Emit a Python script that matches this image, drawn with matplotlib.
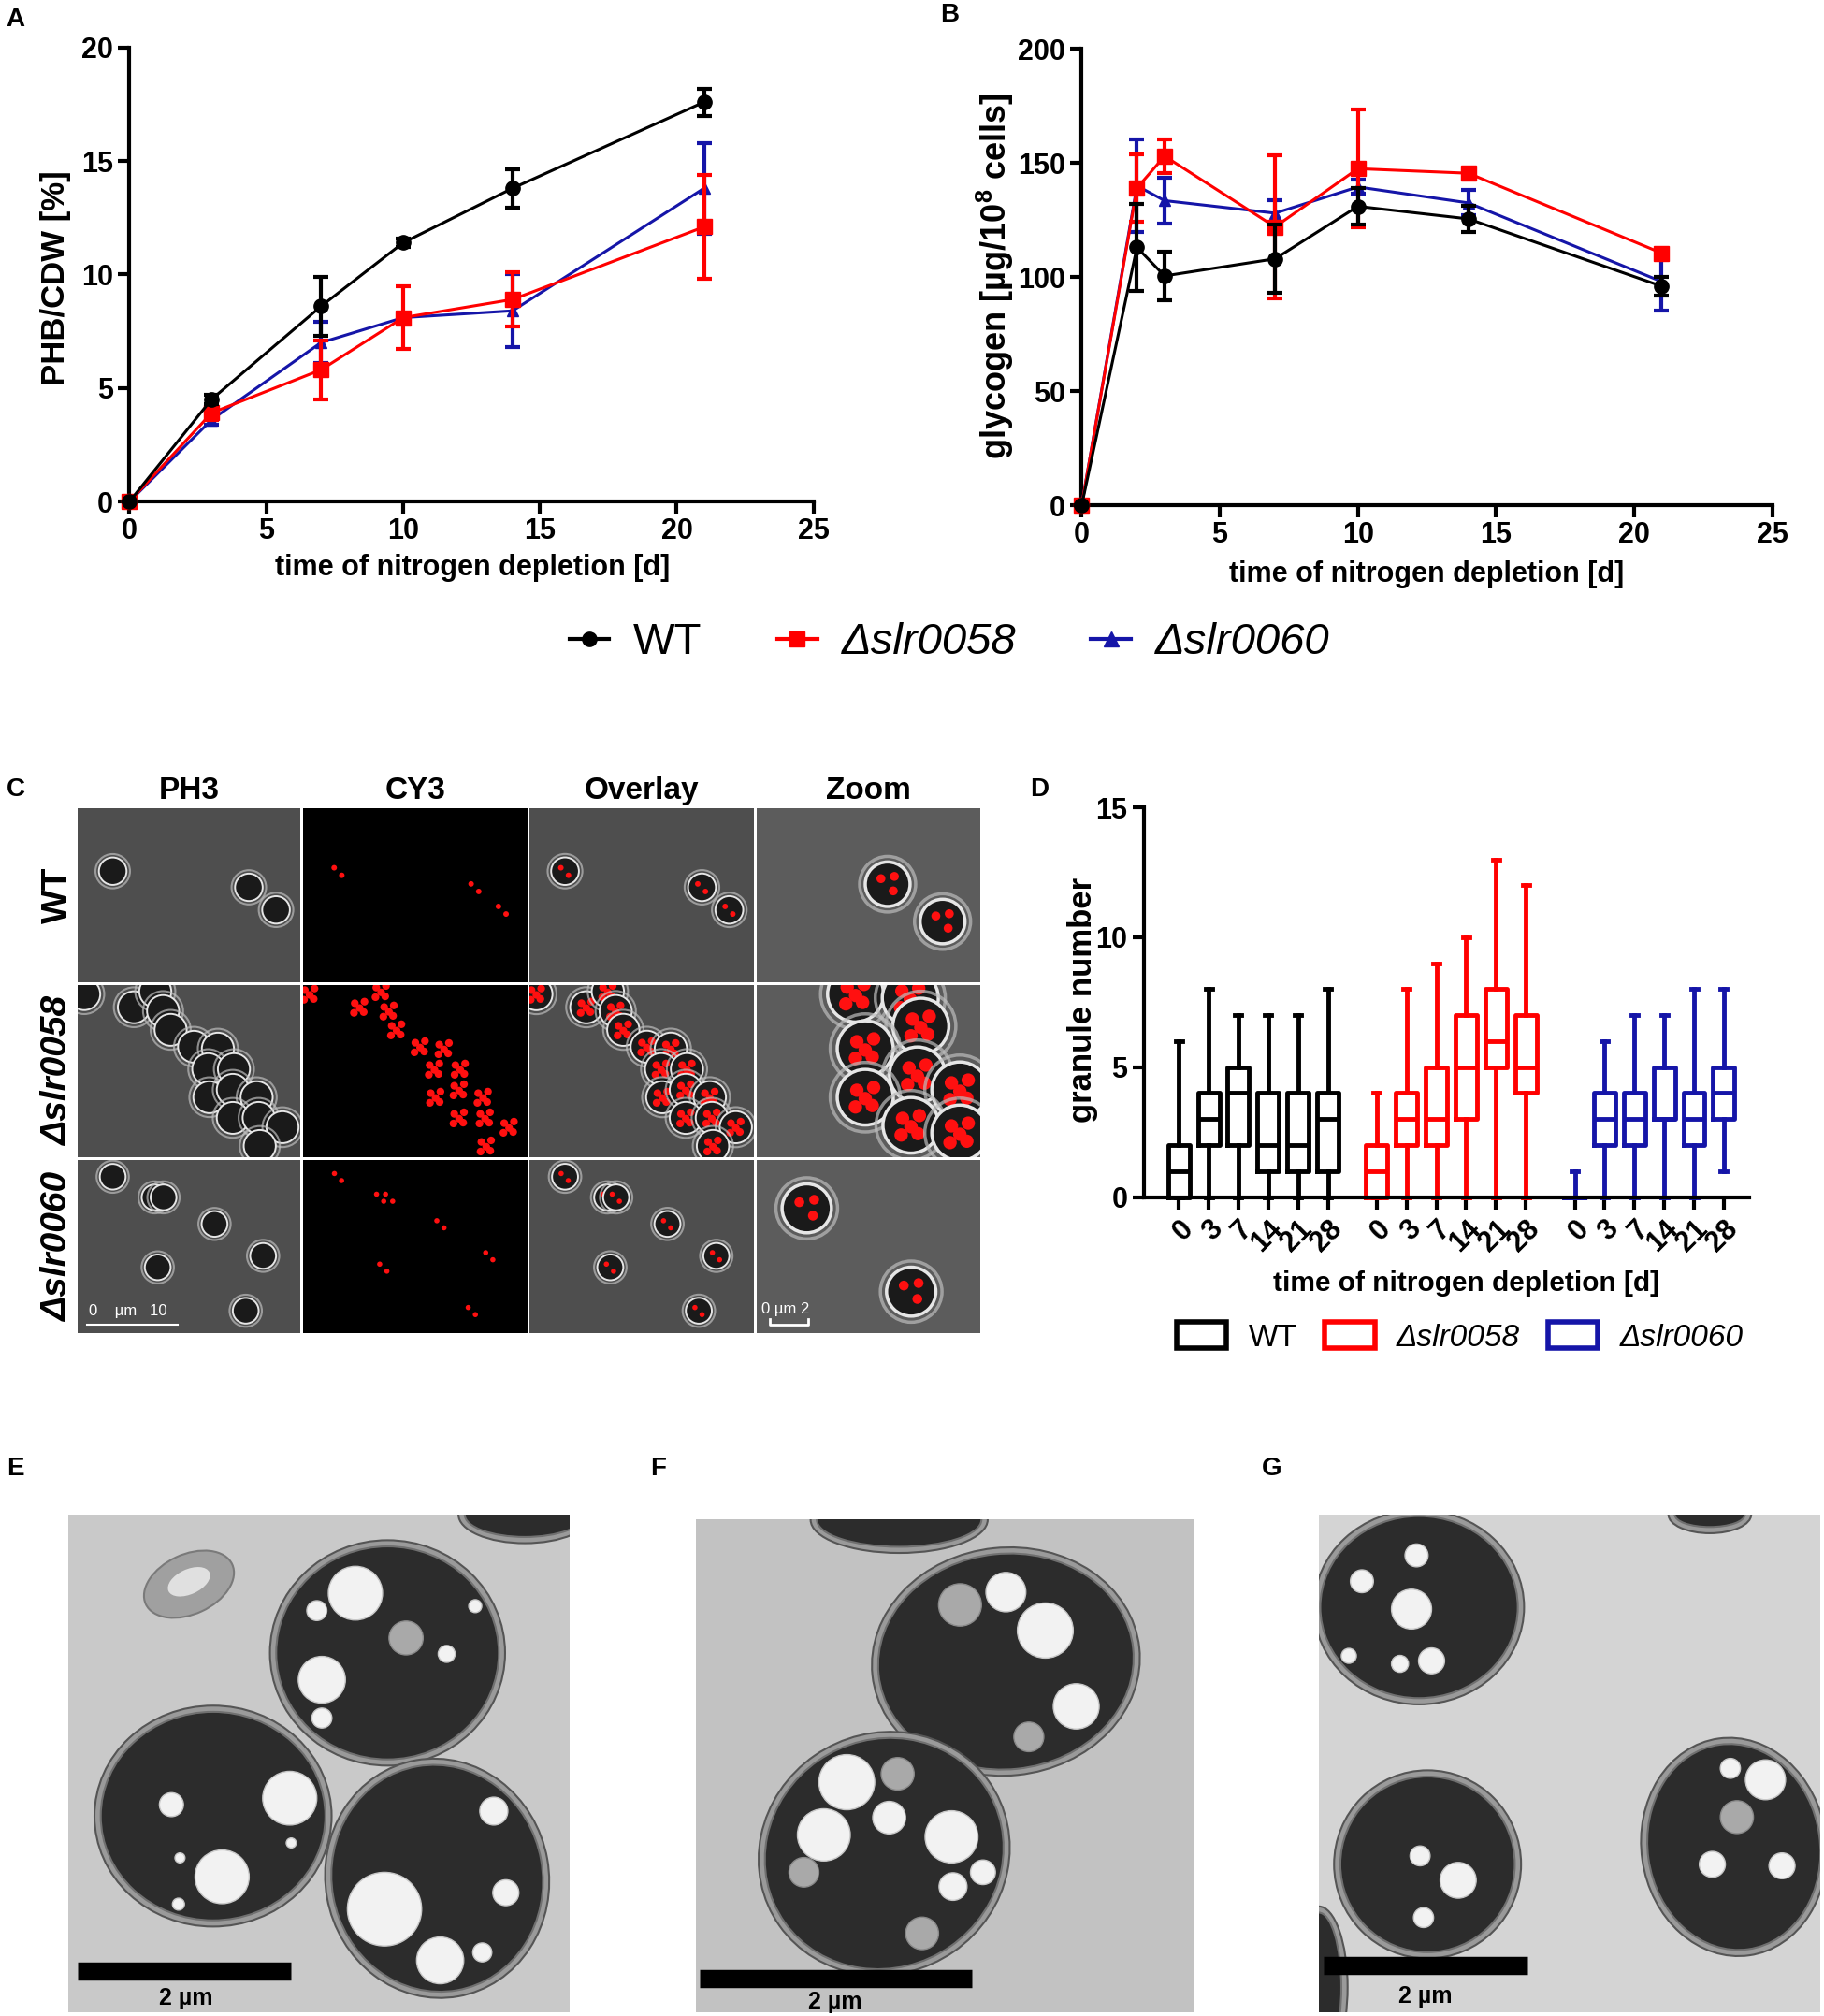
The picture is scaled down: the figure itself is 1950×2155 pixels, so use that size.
import matplotlib
matplotlib.use('Agg')
import matplotlib.pyplot as plt
from matplotlib.patches import Ellipse, Patch
from matplotlib.lines import Line2D

plt.rcParams['font.family'] = ['Liberation Sans', 'DejaVu Sans']
plt.rcParams['mathtext.fontset'] = 'custom'
plt.rcParams['mathtext.rm'] = 'Liberation Sans'
plt.rcParams['mathtext.it'] = 'Liberation Sans:italic'
plt.rcParams['mathtext.bf'] = 'Liberation Sans:bold'

# ---------------- data ----------------
series_names = ['WT', 'Δslr0058', 'Δslr0060']
colors = ['#000000', '#ff0000', '#1515a8']
markers = ['o', 's', '^']

# Panel A: PHB/CDW [%]
time_A = [0, 3, 7, 10, 14, 21]
phb_wt = [0, 4.5, 8.6, 11.4, 13.8, 17.6]
phb_wt_err = [0, 0.2, 1.3, 0.2, 0.85, 0.6]
phb_58 = [0, 3.9, 5.8, 8.1, 8.9, 12.1]
phb_58_err = [0, 0.3, 1.3, 1.4, 1.2, 2.3]
phb_60 = [0, 3.6, 7.0, 8.1, 8.4, 13.8]
phb_60_err = [0, 0.2, 0.9, 0.2, 1.6, 2.0]

# Panel B: glycogen [ug/10^8 cells]
time_B = [0, 2, 3, 7, 10, 14, 21]
gly_wt = [0, 113, 100.5, 108, 131, 125.5, 96]
gly_wt_err = [0, 19, 10.7, 15, 8, 5.7, 4]
gly_58 = [0, 139, 153, 122, 147.5, 145.5, 110.5]
gly_58_err = [0, 14.6, 7.3, 31.5, 25.8, 1.5, 2]
gly_60 = [0, 140, 133.5, 128, 139.5, 132.5, 98]
gly_60_err = [0, 20.4, 10, 5.7, 3, 5.5, 12.5]

# Panel D: granule number box plots (min, q1, median, q3, max)
days_D = ['0', '3', '7', '14', '21', '28']
wt_min = [0, 0, 0, 0, 0, 0]
wt_q1 = [0, 2, 2, 1, 1, 1]
wt_med = [1, 3, 4, 2, 2, 3]
wt_q3 = [2, 4, 5, 4, 4, 4]
wt_max = [6, 8, 7, 7, 7, 8]
s58_min = [0, 0, 0, 0, 0, 0]
s58_q1 = [0, 2, 2, 3, 5, 4]
s58_med = [1, 3, 3, 5, 6, 5]
s58_q3 = [2, 4, 5, 7, 8, 7]
s58_max = [4, 8, 9, 10, 13, 12]
s60_min = [0, 0, 0, 0, 0, 1]
s60_q1 = [0, 2, 2, 3, 2, 3]
s60_med = [0, 3, 3, 3, 3, 4]
s60_q3 = [0, 4, 4, 5, 4, 5]
s60_max = [1, 6, 7, 7, 8, 8]

# Panel C: schematic cell positions (relative panel coordinates)
cells_wt = [(0.157, 0.36), (0.768, 0.453), (0.89, 0.583)]
cells_wt_zoom = [(0.585, 0.435), (0.83, 0.65)]
cells_58 = [(0.029, 0.054), (0.252, 0.130), (0.348, 0.039), (0.383, 0.152),
            (0.417, 0.261), (0.522, 0.359), (0.629, 0.370), (0.586, 0.489),
            (0.701, 0.489), (0.591, 0.652), (0.696, 0.609), (0.803, 0.652),
            (0.696, 0.772), (0.812, 0.772), (0.919, 0.826), (0.817, 0.935)]
cells_58_zoom = [(0.442, 0.054), (0.686, 0.076), (0.733, 0.239), (0.485, 0.37),
                 (0.718, 0.522), (0.907, 0.609), (0.485, 0.652), (0.689, 0.815),
                 (0.907, 0.859)]
cells_60 = [(0.157, 0.098), (0.345, 0.217), (0.385, 0.217), (0.614, 0.370),
            (0.359, 0.620), (0.832, 0.554), (0.754, 0.870)]
cells_60_zoom = [(0.224, 0.28), (0.69, 0.76)]

# Panels E-G: schematic TEM cells (cx, cy, w, h, angle), granules / vacuoles (x, y, r)
em_cells = {
    'E': [(0.636, 0.278, 0.444, 0.428, 0), (0.288, 0.606, 0.448, 0.419, 0),
          (0.735, 0.731, 0.421, 0.457, -10), (0.91, 0.0, 0.24, 0.09, 0)],
    'F': [(0.622, 0.288, 0.513, 0.438, -6), (0.378, 0.678, 0.487, 0.461, -35),
          (0.408, 0.0, 0.33, 0.11, 0)],
    'G': [(0.20, 0.186, 0.394, 0.366, 0), (0.217, 0.703, 0.348, 0.353, 0),
          (0.828, 0.668, 0.344, 0.415, -8), (0.0, 0.95, 0.09, 0.3, 0), (0.78, 0.0, 0.14, 0.05, 0)],
}
em_granules = {
    'E': [(0.572, 0.158, 0.054), (0.505, 0.332, 0.047), (0.495, 0.193, 0.02), (0.754, 0.28, 0.017),
          (0.505, 0.409, 0.02), (0.811, 0.184, 0.013),
          (0.441, 0.57, 0.054), (0.306, 0.728, 0.054), (0.205, 0.583, 0.024), (0.219, 0.783, 0.012),
          (0.444, 0.66, 0.01), (0.222, 0.69, 0.01),
          (0.63, 0.793, 0.074), (0.741, 0.896, 0.047), (0.848, 0.596, 0.028), (0.872, 0.76, 0.026),
          (0.825, 0.88, 0.019)],
    'F': [(0.622, 0.147, 0.04), (0.701, 0.225, 0.056), (0.763, 0.379, 0.046),
          (0.303, 0.533, 0.056), (0.257, 0.64, 0.053), (0.513, 0.644, 0.053), (0.388, 0.605, 0.033),
          (0.576, 0.716, 0.025), (0.516, 0.745, 0.028)],
    'G': [(0.185, 0.19, 0.04), (0.195, 0.082, 0.023), (0.086, 0.134, 0.023), (0.225, 0.294, 0.026),
          (0.162, 0.30, 0.017), (0.06, 0.284, 0.015),
          (0.278, 0.735, 0.036), (0.202, 0.686, 0.02), (0.209, 0.81, 0.02),
          (0.891, 0.533, 0.04), (0.821, 0.51, 0.02), (0.785, 0.703, 0.026), (0.924, 0.706, 0.026)],
}
em_vacuoles = {
    'E': [(0.673, 0.248, 0.034)],
    'F': [(0.53, 0.173, 0.043), (0.668, 0.441, 0.03), (0.405, 0.516, 0.033), (0.217, 0.716, 0.03),
          (0.454, 0.84, 0.033)],
    'G': [(0.834, 0.608, 0.033)],
}
em_bg = {'E': '#c9c9c9', 'F': '#c2c2c2', 'G': '#d4d4d4'}

# ---------------- figure ----------------
W, H = 1408.0, 1568.0
fig = plt.figure(figsize=(19.5, 21.55), dpi=100)


def box(x0, y0, x1, y1):
    return [x0 / W, 1 - y1 / H, (x1 - x0) / W, (y1 - y0) / H]


def fx(x):
    return x / W


def fy(y):
    return 1 - y / H


def style(ax, lab=21):
    for s in ['top', 'right']:
        ax.spines[s].set_visible(False)
    for s in ['left', 'bottom']:
        ax.spines[s].set_linewidth(3)
    ax.tick_params(width=3, length=9, labelsize=lab, direction='out')
    for t in ax.get_xticklabels() + ax.get_yticklabels():
        t.set_fontweight('bold')


# Panel A
axA = fig.add_axes(box(100, 37, 628, 390))
dataA = [(phb_60, phb_60_err), (phb_58, phb_58_err), (phb_wt, phb_wt_err)]
for k, (v, e) in zip([2, 1, 0], dataA):
    axA.errorbar(time_A, v, yerr=e, color=colors[k], marker=markers[k],
                 ms=11 if k < 2 else 9, lw=2.2, elinewidth=3, capsize=6, capthick=3,
                 clip_on=False, zorder=3 + (2 - k))
axA.set_xlim(0, 25)
axA.set_ylim(0, 20)
axA.set_xticks([0, 5, 10, 15, 20, 25])
axA.set_yticks([0, 5, 10, 15, 20])
style(axA, lab=22)
fig.text(fx(365), fy(442), 'time of nitrogen depletion [d]', ha='center', va='center',
         fontsize=22, fontweight='bold')
fig.text(fx(43), fy(216), 'PHB/CDW [%]', ha='center', va='center', rotation=90,
         fontsize=25, fontweight='bold')

# Panel B
axB = fig.add_axes(box(835, 38, 1368, 393))
dataB = [(gly_60, gly_60_err), (gly_58, gly_58_err), (gly_wt, gly_wt_err)]
for k, (v, e) in zip([2, 1, 0], dataB):
    axB.errorbar(time_B, v, yerr=e, color=colors[k], marker=markers[k],
                 ms=11 if k < 2 else 9, lw=2.2, elinewidth=3, capsize=6, capthick=3,
                 clip_on=False, zorder=3 + (2 - k))
axB.set_xlim(0, 25)
axB.set_ylim(0, 200)
axB.set_xticks([0, 5, 10, 15, 20, 25])
axB.set_yticks([0, 50, 100, 150, 200])
style(axB, lab=22)
fig.text(fx(1101), fy(447), 'time of nitrogen depletion [d]', ha='center', va='center',
         fontsize=22, fontweight='bold')
fig.text(fx(768), fy(215), r'glycogen [µg/10$^{\mathbf{8}}$ cells]', ha='center', va='center',
         rotation=90, fontsize=26, fontweight='bold')

# Legend A/B
handles = [Line2D([], [], color=colors[k], marker=markers[k], ms=11, lw=3) for k in range(3)]
legAB = fig.legend(handles, series_names, loc='center', bbox_to_anchor=(fx(733), fy(500)), ncol=3,
                   frameon=False, fontsize=34, handlelength=0.9, columnspacing=1.7,
                   handletextpad=0.55)
for t in legAB.get_texts()[1:]:
    t.set_fontstyle('italic')

# Panel D
axD = fig.add_axes(box(883, 628, 1350, 931))
groups = [(wt_min, wt_q1, wt_med, wt_q3, wt_max),
          (s58_min, s58_q1, s58_med, s58_q3, s58_max),
          (s60_min, s60_q1, s60_med, s60_q3, s60_max)]
group_step = 6.64
pos_all, lab_all = [], []
for gi, (mn, q1, md, q3, mx) in enumerate(groups):
    stats = [dict(whislo=mn[i], q1=q1[i], med=md[i], q3=q3[i], whishi=mx[i], fliers=[])
             for i in range(len(days_D))]
    pos = [i + gi * group_step for i in range(len(days_D))]
    c = colors[gi]
    axD.bxp(stats, positions=pos, widths=0.72, showfliers=False,
            boxprops=dict(color=c, lw=3.5), medianprops=dict(color=c, lw=3.5),
            whiskerprops=dict(color=c, lw=3.5), capprops=dict(color=c, lw=3.5),
            capwidths=0.22, manage_ticks=False)
    pos_all += pos
    lab_all += days_D
for ln in axD.lines:
    ln.set_clip_on(False)
axD.set_xlim(-1.17, 19.12)
axD.set_ylim(0, 15)
axD.set_yticks([0, 5, 10, 15])
axD.set_xticks(pos_all)
axD.set_xticklabels(lab_all, rotation=45, ha='right', rotation_mode='anchor')
style(axD, lab=22)
axD.tick_params(axis='x', pad=5)
fig.text(fx(836), fy(778), 'granule number', ha='center', va='center', rotation=90,
         fontsize=25, fontweight='bold')
fig.text(fx(1132), fy(998), 'time of nitrogen depletion [d]', ha='center', va='center',
         fontsize=21.5, fontweight='bold')
hD = [Patch(facecolor='white', edgecolor=colors[k], lw=4) for k in range(3)]
legD = fig.legend(hD, series_names, loc='center', bbox_to_anchor=(fx(1127), fy(1040)), ncol=3,
                  frameon=False, fontsize=24, handlelength=1.6, handleheight=0.9,
                  columnspacing=0.9, handletextpad=0.7)
for t in legD.get_texts()[1:]:
    t.set_fontstyle('italic')

# Panel C: microscopy schematic
col_x = [(60, 232), (234, 407), (409, 582), (584, 757)]
row_y = [(629, 764), (766, 900), (902, 1037)]
rows = [(cells_wt, cells_wt_zoom, 2, 0.062, 0.10),
        (cells_58, cells_58_zoom, 5, 0.072, 0.125),
        (cells_60, cells_60_zoom, 2, 0.058, 0.11)]
dot_pattern = [(-0.3, -0.25), (0.25, 0.3), (0.3, -0.35), (-0.35, 0.35), (0.0, 0.05)]
col_titles = ['PH3', 'CY3', 'Overlay', 'Zoom']
for ri, (cells, zcells, nd, r, rz) in enumerate(rows):
    for ci in range(4):
        (x0, x1), (y0, y1) = col_x[ci], row_y[ri]
        ax = fig.add_axes(box(x0, y0, x1, y1))
        asp = (x1 - x0) / (y1 - y0)
        ax.set_xlim(0, 1)
        ax.set_ylim(1, 0)
        ax.set_xticks([])
        ax.set_yticks([])
        for s in ax.spines.values():
            s.set_visible(False)
        bg = '#000000' if ci == 1 else ('#5c5c5c' if ci == 3 else '#4e4e4e')
        ax.set_facecolor(bg)
        cl, rr = (zcells, rz) if ci == 3 else (cells, r)
        for (cx, cy) in cl:
            if ci != 1:
                ax.add_patch(Ellipse((cx, cy), 2 * rr * 1.25, 2 * rr * asp * 1.25,
                                     facecolor='none', edgecolor='#bdbdbd', lw=2.5 if ci == 3 else 1.5,
                                     alpha=0.7))
                ax.add_patch(Ellipse((cx, cy), 2 * rr, 2 * rr * asp, facecolor='#1a1a1a',
                                     edgecolor='#e6e6e6', lw=2.5 if ci == 3 else 1.4))
            if ci != 0:
                for (dx, dy) in dot_pattern[:nd + (1 if ci == 3 else 0)]:
                    dr = rr * (0.2 if nd < 5 else 0.24)
                    ax.add_patch(Ellipse((cx + dx * rr, cy + dy * rr * asp), 2 * dr, 2 * dr * asp,
                                         facecolor='#ff1010', edgecolor='none'))
        if ri == 2 and ci == 0:
            ax.plot([0.04, 0.45], [0.95, 0.95], color='white', lw=1.5)
            ax.text(0.05, 0.91, '0    µm   10', color='white', fontsize=12, va='bottom')
        if ri == 2 and ci == 3:
            ax.plot([0.06, 0.06, 0.23, 0.23], [0.92, 0.95, 0.95, 0.92], color='white', lw=2)
            ax.text(0.02, 0.9, '0 µm 2', color='white', fontsize=12, va='bottom')
for ci, t in enumerate(col_titles):
    fig.text(fx(sum(col_x[ci]) / 2), fy(615), t, ha='center', va='center', fontsize=24,
             fontweight='bold')
for ri, t in enumerate(series_names):
    fig.text(fx(45), fy(sum(row_y[ri]) / 2), t, ha='center', va='center', rotation=90,
             fontsize=28, fontweight='bold', fontstyle='italic' if ri else 'normal')

# Panels E-G: TEM schematic
em_boxes = {'E': (53, 1178, 440, 1565), 'F': (537, 1182, 922, 1565), 'G': (1018, 1178, 1405, 1565)}
em_bars = {'E': (0.017, 0.443, 0.917, 0.233, 0.972), 'F': (0.008, 0.554, 0.931, 0.28, 0.98),
           'G': (0.01, 0.417, 0.907, 0.212, 0.968)}
for key in ['E', 'F', 'G']:
    ax = fig.add_axes(box(*em_boxes[key]))
    ax.set_xlim(0, 1)
    ax.set_ylim(1, 0)
    ax.set_xticks([])
    ax.set_yticks([])
    for s in ax.spines.values():
        s.set_visible(False)
    ax.set_facecolor(em_bg[key])
    if key == 'E':
        ax.add_patch(Ellipse((0.24, 0.14), 0.19, 0.12, angle=-25, facecolor='#a0a0a0',
                             edgecolor='#7a7a7a', lw=1.5))
        ax.add_patch(Ellipse((0.24, 0.135), 0.09, 0.05, angle=-25, facecolor='#e0e0e0',
                             edgecolor='none'))
    for (cx, cy, w, h, a) in em_cells[key]:
        ax.add_patch(Ellipse((cx, cy), w + 0.025, h + 0.025, angle=a, facecolor='#9a9a9a',
                             edgecolor='#555555', lw=1.5))
        ax.add_patch(Ellipse((cx, cy), w, h, angle=a, facecolor='#2c2c2c', edgecolor='#707070', lw=1.5))
    for (gx, gy, gr) in em_vacuoles[key]:
        ax.add_patch(Ellipse((gx, gy), 2 * gr, 2 * gr, facecolor='#a9a9a9', edgecolor='#8a8a8a', lw=1))
    for (gx, gy, gr) in em_granules[key]:
        ax.add_patch(Ellipse((gx, gy), 2 * gr, 2 * gr, facecolor='#f2f2f2', edgecolor='#c8c8c8', lw=1))
    bx0, bx1, by, tx, ty = em_bars[key]
    ax.plot([bx0, bx1], [by, by], color='black', lw=14, solid_capstyle='butt')
    ax.text(tx, ty, '2 µm', ha='center', va='center', fontsize=18, fontweight='bold')

# panel letters
for L, (x, y) in {'A': (12, 15), 'B': (733, 12), 'C': (12, 614), 'D': (802, 614),
                  'E': (12, 1142), 'F': (508, 1142), 'G': (982, 1142)}.items():
    fig.text(fx(x), fy(y), L, ha='center', va='center', fontsize=20, fontweight='bold')

fig.savefig('out.png', dpi=100, facecolor='white')
